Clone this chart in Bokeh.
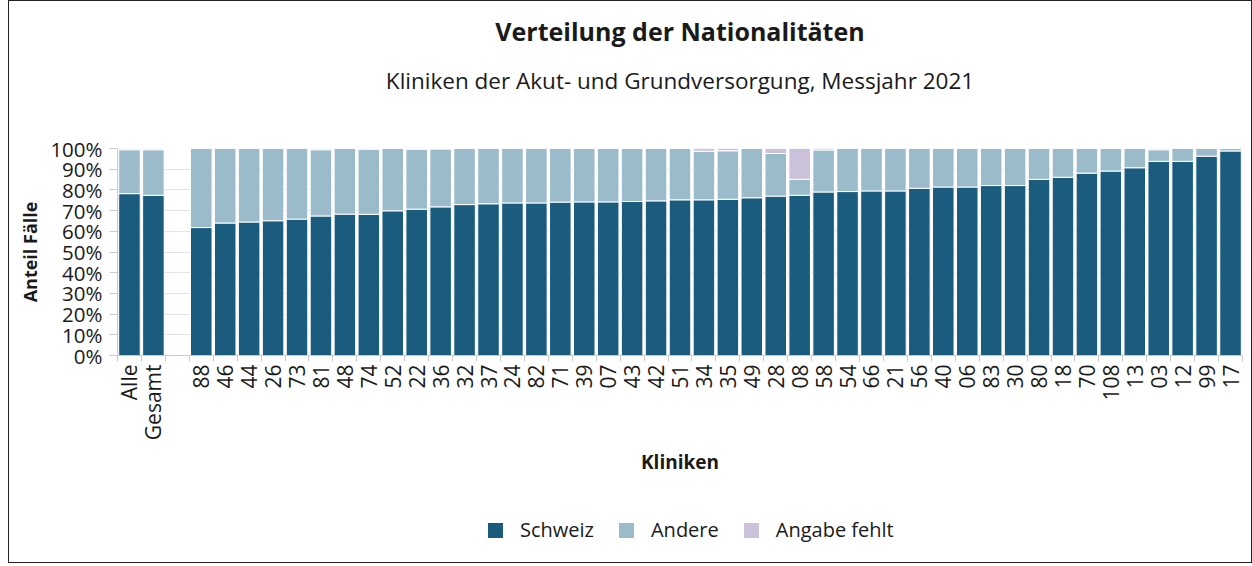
import math
from bokeh.plotting import figure
from bokeh.layouts import column
from bokeh.models import Range1d, FixedTicker, PrintfTickFormatter, Title, Legend, SingleIntervalTicker
from bokeh.embed import file_html
from bokeh.resources import INLINE

kliniken = ["Alle", "Gesamt", "", "88", "46", "44", "26", "73", "81", "48", "74", "52",
            "22", "36", "32", "37", "24", "82", "71", "39", "07", "43", "42",
            "51", "34", "35", "49", "28", "08", "58", "54", "66", "21",
            "56", "40", "06", "83", "30", "80", "18", "70", "108", "13",
            "03", "12", "99", "17"]
schweiz = [78.2, 77.4, 0, 61.8, 64.0, 64.5, 65.1, 65.9, 67.4, 68.3, 68.2, 69.9,
           70.7, 71.8, 72.9, 73.3, 73.7, 73.7, 74.1, 74.2, 74.2, 74.4, 74.7,
           75.2, 75.2, 75.5, 76.2, 77.0, 77.4, 79.0, 79.2, 79.5, 79.5,
           80.8, 81.4, 81.4, 82.1, 82.1, 85.1, 86.1, 88.1, 89.1, 90.7,
           93.8, 93.8, 96.3, 98.8]
fehlt = [0.6, 0.6, 0, 0, 0, 0, 0, 0, 0.6, 0, 0.3, 0,
         0.3, 0.2, 0, 0, 0, 0, 0, 0, 0, 0, 0,
         0, 1.3, 1.1, 0, 2.4, 14.9, 0.7, 0, 0, 0,
         0, 0, 0, 0, 0, 0, 0, 0, 0, 0,
         0.6, 0, 0, 0]
andere = [0 if k == "" else round(100 - s - f, 2) for k, s, f in zip(kliniken, schweiz, fehlt)]
serien = ["Schweiz", "Andere", "Angabe fehlt"]
farben = ["#1b5b7e", "#9bbbcb", "#cbc1da"]

n = len(kliniken)
pos = [i + 0.5 for i in range(n)]
data = dict(x=pos, Schweiz=schweiz, Andere=andere)
data["Angabe fehlt"] = fehlt

FONT = "Open Sans"
TXT = "#1a1a1a"

p = figure(frame_width=1125, frame_height=207, output_backend="svg", toolbar_location=None,
           x_range=Range1d(0, n), y_range=Range1d(0, 100),
           min_border_left=108, min_border_right=9, min_border_top=10, min_border_bottom=130)

renderers = p.vbar_stack(serien, x="x", width=0.9, color=farben, line_color="white",
                         line_width=1, source=data)

# titles (first added is nearest the plot)
spacer = Title(text=" ", text_font=FONT, text_font_size="10px", standoff=32)
p.add_layout(spacer, "above")
sub = Title(text="Kliniken der Akut- und Grundversorgung, Messjahr 2021", align="center",
            text_font=FONT, text_font_size="22.5px", text_font_style="normal",
            text_color=TXT, standoff=10)
p.add_layout(sub, "above")
main = Title(text="Verteilung der Nationalitäten", align="center",
             text_font=FONT, text_font_size="25px", text_font_style="bold",
             text_color=TXT, standoff=20)
p.add_layout(main, "above")

# axes
xa = p.xaxis[0]
xa.ticker = FixedTicker(ticks=pos, minor_ticks=list(range(n + 1)))
xa.major_label_overrides = {x: k for x, k in zip(pos, kliniken)}
xa.major_label_orientation = math.pi / 2
xa.major_tick_out = 0
xa.major_tick_in = 0
xa.minor_tick_out = 6
xa.minor_tick_in = 0
xa.minor_tick_line_color = "#cccccc"
xa.axis_line_color = "#cccccc"
xa.major_label_text_font = FONT
xa.major_label_text_font_size = "21px"
xa.major_label_text_color = TXT
xa.major_label_standoff = 3
xa.axis_label = "Kliniken"
xa.axis_label_text_font = FONT
xa.axis_label_text_font_size = "19px"
xa.axis_label_text_font_style = "bold"
xa.axis_label_text_color = TXT
xa.axis_label_standoff = 6

ya = p.yaxis[0]
ya.ticker = SingleIntervalTicker(interval=10)
ya.formatter = PrintfTickFormatter(format="%d%%")
ya.minor_tick_line_color = None
ya.major_tick_out = 8
ya.major_tick_in = 0
ya.major_tick_line_color = "#cccccc"
ya.axis_line_color = "#cccccc"
ya.major_label_text_font = FONT
ya.major_label_text_font_size = "20.5px"
ya.major_label_text_color = TXT
ya.major_label_standoff = 7
ya.axis_label = "Anteil Fälle"
ya.axis_label_text_font = FONT
ya.axis_label_text_font_size = "18px"
ya.axis_label_text_font_style = "bold"
ya.axis_label_text_color = TXT
ya.axis_label_standoff = 5

p.xgrid.grid_line_color = None
p.ygrid.ticker = SingleIntervalTicker(interval=10)
p.ygrid.grid_line_color = "#e3e3e3"
p.outline_line_color = None

# legend strip below the chart (hidden proxy bars outside the visible range)
lf = figure(width=1242, height=77, output_backend="svg", toolbar_location=None,
            x_range=Range1d(0, 1), y_range=Range1d(0, 1),
            x_axis_location=None, y_axis_location=None, min_border=0)
lf.grid.grid_line_color = None
lf.outline_line_color = None
dummies = [lf.vbar(x=[-10], top=[0], width=1, color=c, line_color="white", line_width=1)
           for c in farben]
legend = Legend(items=[(s, [r]) for s, r in zip(serien, dummies)],
                orientation="horizontal", location=(368, 19),
                label_text_font=FONT, label_text_font_size="20px", label_text_color=TXT,
                glyph_width=20, glyph_height=20, label_standoff=15, spacing=22,
                border_line_color=None, background_fill_alpha=0, margin=0, padding=0)
lf.add_layout(legend, "center")

layout = column(p, lf, spacing=0)
layout.styles = {"border": "1px solid #222", "margin-left": "8px"}

open("out.html", "w").write(file_html(layout, INLINE))
